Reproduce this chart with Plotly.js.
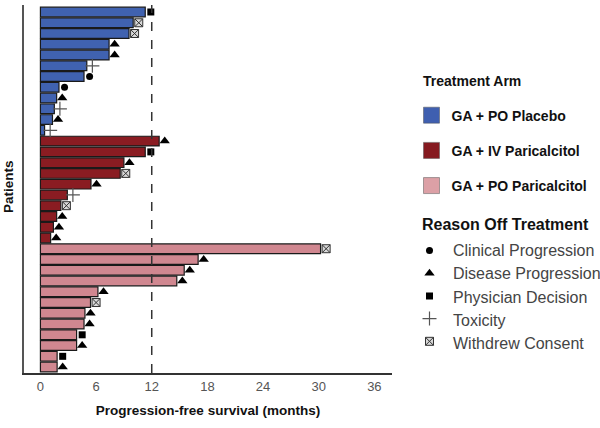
<!DOCTYPE html>
<html>
<head>
<meta charset="utf-8">
<script src="https://cdn.plot.ly/plotly-3.0.1.min.js"></script>
<style>html,body{margin:0;padding:0;background:#fff;}#chart{width:600px;height:428px;}</style>
</head>
<body>
<div id="chart"></div>
<script>
// ---- data ----
const armNames = ['GA + PO Placebo', 'GA + IV Paricalcitol', 'GA + PO Paricalcitol'];
const armColors = ['#4062B0', '#8A1C22', '#D08790'];
const legendSwatchColors = ['#3F5FB0', '#861A20', '#DCA0A6'];

const placeboPFS = [11.3, 10.0, 9.55, 7.4, 7.4, 5.0, 4.7, 2.0, 1.75, 1.5, 1.3, 0.45];
const placeboReason = ['Physician Decision', 'Withdrew Consent', 'Withdrew Consent', 'Disease Progression', 'Disease Progression', 'Toxicity', 'Clinical Progression', 'Clinical Progression', 'Disease Progression', 'Toxicity', 'Disease Progression', 'Toxicity'];

const ivPFS = [12.8, 11.3, 9.0, 8.6, 5.45, 2.9, 2.2, 1.75, 1.4, 1.1];
const ivReason = ['Disease Progression', 'Physician Decision', 'Disease Progression', 'Withdrew Consent', 'Disease Progression', 'Toxicity', 'Withdrew Consent', 'Disease Progression', 'Disease Progression', 'Disease Progression'];

const poPFS = [30.2, 17.0, 15.5, 14.7, 6.2, 5.4, 4.8, 4.7, 3.9, 3.9, 1.8, 1.8];
const poReason = ['Withdrew Consent', 'Disease Progression', 'Disease Progression', 'Disease Progression', 'Disease Progression', 'Withdrew Consent', 'Disease Progression', 'Disease Progression', 'Physician Decision', 'Disease Progression', 'Physician Decision', 'Disease Progression'];

const reasonNames = ['Clinical Progression', 'Disease Progression', 'Physician Decision', 'Toxicity', 'Withdrew Consent'];
const xTicks = [0, 6, 12, 18, 24, 30, 36];
const referenceLine = 12;

// ---- styles ----
const reasonStyle = {
  'Clinical Progression': {symbol: 'circle', size: 7, color: '#000', line: {color: '#000', width: 0}},
  'Disease Progression': {symbol: 'triangle-up', size: 9, color: '#000', line: {color: '#000', width: 0}},
  'Physician Decision': {symbol: 'square', size: 7, color: '#000', line: {color: '#000', width: 0}},
  'Toxicity': {symbol: 'cross-thin', size: 10, color: '#555', line: {color: '#555', width: 1.2}},
  'Withdrew Consent': {symbol: 'square-x', size: 8, color: '#d8d8d8', line: {color: '#333', width: 1}}
};
const markerOffset = 0.6;

const arms = [
  {pfs: placeboPFS, reason: placeboReason},
  {pfs: ivPFS, reason: ivReason},
  {pfs: poPFS, reason: poReason}
];

const traces = [];
let idx = 0;
const pts = {};
reasonNames.forEach(r => pts[r] = {x: [], y: []});
arms.forEach((arm, a) => {
  const ys = arm.pfs.map((_, i) => idx + i);
  traces.push({
    type: 'bar', orientation: 'h', x: arm.pfs, y: ys, width: 0.9,
    marker: {color: armColors[a], line: {color: '#1a1a1a', width: 1.2}},
    showlegend: false, hoverinfo: 'x'
  });
  arm.reason.forEach((r, i) => { pts[r].x.push(arm.pfs[i] + markerOffset); pts[r].y.push(idx + i); });
  idx += arm.pfs.length;
});

// legend entries for arms
armNames.forEach((n, a) => {
  traces.push({
    type: 'scatter', mode: 'markers', x: [null], y: [null], name: '<b>' + n + '</b>',
    marker: {symbol: 'square', size: 17, color: legendSwatchColors[a], line: {color: '#555', width: 0.5}},
    legend: 'legend', legendgroup: 'arm' + a
  });
});

// reason markers (legend symbols via legend2, labels as annotations so the wide text fits the page)
reasonNames.forEach((r, k) => {
  const s = reasonStyle[r];
  traces.push({
    type: 'scatter', mode: 'markers', x: pts[r].x, y: pts[r].y, name: ' ',
    marker: {symbol: s.symbol, size: s.size, color: s.color, line: s.line},
    legend: 'legend2', legendgroup: 'reason' + k, cliponaxis: false
  });
});

// layout helpers (pixel -> paper for the fixed 600x428 page)
const M = {l: 24, r: 208, t: 5, b: 55};
const plotW = 600 - M.l - M.r, plotH = 428 - M.t - M.b;
const px = x => (x - M.l) / plotW;
const py = y => (428 - M.b - y) / plotH;

const reasonLabelTop = 250.5, reasonLabelStep = 23.3;
const reasonAnnotations = reasonNames.map((r, k) => ({
  text: r, xref: 'paper', yref: 'paper', x: px(450.5), y: py(reasonLabelTop + k * reasonLabelStep),
  xanchor: 'left', yanchor: 'middle', showarrow: false, font: {size: 16, color: '#444'}
}));

const layout = {
  width: 600, height: 428,
  margin: M,
  paper_bgcolor: '#fff', plot_bgcolor: '#fff',
  font: {family: 'Liberation Sans, Arial, sans-serif', color: '#222'},
  barmode: 'overlay',
  xaxis: {
    range: [-1.77, 37.9], tickvals: xTicks, ticktext: xTicks.map(String),
    showgrid: false, zeroline: false, showline: true, linecolor: '#333', linewidth: 2,
    ticks: '', tickfont: {size: 13, color: '#555'},
    title: {text: '<b>Progression-free survival (months)</b>', font: {size: 13.5, color: '#111'}, standoff: 13}
  },
  yaxis: {
    range: [33.55, -0.65], showticklabels: false, showgrid: false, zeroline: false,
    showline: true, linecolor: '#555', linewidth: 2, ticks: ''
  },
  shapes: [{
    type: 'line', xref: 'x', yref: 'paper', x0: referenceLine, x1: referenceLine, y0: 0, y1: 1,
    line: {color: '#333', width: 1.5, dash: 'dash'}
  }],
  annotations: [{
    text: '<b>Patients</b>', xref: 'paper', yref: 'paper', x: px(8), y: py(187),
    xanchor: 'center', yanchor: 'middle', textangle: -90, showarrow: false,
    font: {size: 13.5, color: '#111'}
  }, {
    text: '<b>Treatment Arm</b>', xref: 'paper', yref: 'paper', x: px(421), y: py(81),
    xanchor: 'left', yanchor: 'middle', showarrow: false, font: {size: 14, color: '#111'}
  }, {
    text: '<b>Reason Off Treatment</b>', xref: 'paper', yref: 'paper', x: px(420), y: py(224.5),
    xanchor: 'left', yanchor: 'middle', showarrow: false, font: {size: 16, color: '#111'}
  }].concat(reasonAnnotations),
  legend: {
    x: px(411.5), xanchor: 'left', y: 0.743, yanchor: 'top',
    font: {size: 14, color: '#111'}, tracegroupgap: 14, bgcolor: 'rgba(0,0,0,0)'
  },
  legend2: {
    x: px(409.5), xanchor: 'left', y: 0.377, yanchor: 'top',
    font: {size: 15, color: '#444'}, tracegroupgap: 0.2, bgcolor: 'rgba(0,0,0,0)'
  },
  showlegend: true
};

Plotly.newPlot('chart', traces, layout, {displayModeBar: false, staticPlot: true});
</script>
</body>
</html>
